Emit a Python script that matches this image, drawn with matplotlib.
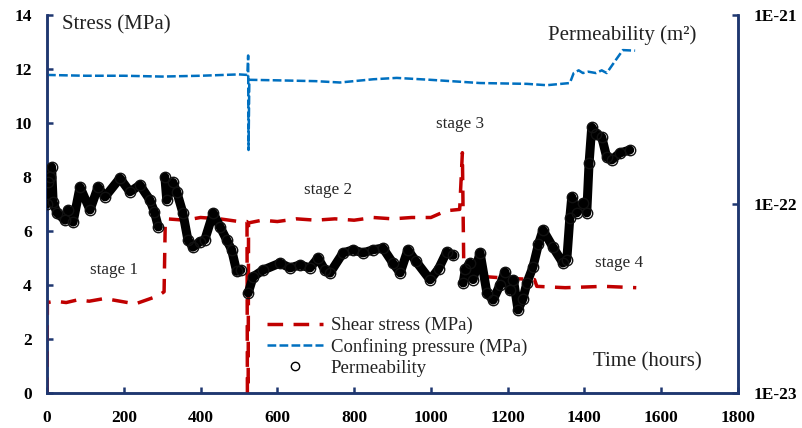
import numpy as np
import matplotlib
matplotlib.use("Agg")
import matplotlib.pyplot as plt
from matplotlib.lines import Line2D
from matplotlib.ticker import FixedLocator, FixedFormatter, NullLocator

# ---------------- data ----------------
shear_t = [0, 1, 20, 50, 80, 110, 150, 190, 230, 260, 290, 305, 308, 312, 360, 400, 450, 500, 521,
           522, 524, 525, 560, 600, 650, 700, 750, 800, 850, 900, 950, 1000, 1040, 1075, 1082,
           1086, 1150, 1200, 1270, 1276, 1350, 1450, 1535]
shear_v = [0, 3.35, 3.4, 3.35, 3.45, 3.4, 3.5, 3.4, 3.3, 3.45, 3.6, 3.75, 6.3, 6.45, 6.4, 6.5, 6.45, 6.35, 6.35,
           0, 0, 6.3, 6.4, 6.35, 6.45, 6.4, 6.45, 6.4, 6.5, 6.45, 6.5, 6.5, 6.75, 6.8, 8.9,
           4.3, 4.3, 4.25, 4.2, 3.95, 3.9, 3.95, 3.9]

conf_t = [0, 100, 200, 300, 400, 500, 522, 524, 525, 527, 600, 700, 763, 850, 911, 998, 1128, 1250,
          1302, 1362, 1372, 1385, 1396, 1410, 1430, 1445, 1458, 1480, 1500, 1532]
conf_v = [11.78, 11.75, 11.75, 11.72, 11.75, 11.8, 11.78, 12.5, 9.0, 11.6, 11.58, 11.55, 11.5, 11.62, 11.67,
          11.6, 11.48, 11.45, 11.4, 11.48, 11.85, 11.95, 11.85, 11.9, 11.85, 11.95, 11.85, 12.3, 12.7, 12.68]

perm_t = [0, 3, 8, 12, 16, 26, 47, 55, 68, 86, 112, 133, 151, 190, 216, 242, 268, 280, 290,
          np.nan,
          307, 312, 328, 338, 354, 367, 380, 398, 411, 433, 451, 468, 481, 494, 505,
          np.nan,
          524, 537, 563, 607, 633, 659, 685, 706, 724, 737, 771, 797, 823, 849, 875, 901, 920,
          940, 960, 998, 1020, 1041, 1058,
          np.nan,
          1084, 1090, 1102, 1110, 1128, 1146, 1162, 1180, 1193, 1206, 1215, 1227, 1240, 1250,
          1266, 1280, 1292, 1318, 1344, 1354, 1362, 1367, 1380, 1396, 1406, 1412, 1419, 1430,
          1445, 1458, 1471, 1492, 1518]
perm_k = [1.00e-22, 1.30e-22, 1.39e-22, 1.57e-22, 1.02e-22, 8.97e-23, 8.21e-23, 9.30e-23, 8.02e-23,
          1.23e-22, 9.30e-23, 1.23e-22, 1.09e-22, 1.37e-22, 1.16e-22, 1.26e-22, 1.05e-22, 9.06e-23, 7.56e-23,
          np.nan,
          1.39e-22, 1.05e-22, 1.30e-22, 1.16e-22, 8.97e-23, 6.46e-23, 5.91e-23, 6.31e-23, 6.46e-23,
          8.97e-23, 7.56e-23, 6.46e-23, 5.72e-23, 4.40e-23, 4.47e-23,
          np.nan,
          3.38e-23, 4.12e-23, 4.47e-23, 4.87e-23, 4.59e-23, 4.76e-23, 4.59e-23, 5.18e-23, 4.47e-23,
          4.31e-23, 5.51e-23, 5.72e-23, 5.51e-23, 5.72e-23, 5.85e-23, 4.87e-23, 4.32e-23,
          5.72e-23, 5.01e-23, 3.97e-23, 4.54e-23, 5.57e-23, 5.35e-23,
          np.nan,
          3.82e-23, 4.54e-23, 4.87e-23, 3.98e-23, 5.53e-23, 3.38e-23, 3.10e-23, 3.73e-23, 4.37e-23,
          3.49e-23, 3.98e-23, 2.75e-23, 3.16e-23, 3.82e-23,
          4.65e-23, 6.11e-23, 7.29e-23, 5.91e-23, 4.87e-23, 5.06e-23, 8.48e-23, 1.09e-22, 8.97e-23,
          1.01e-22, 8.97e-23, 1.64e-22, 2.55e-22, 2.35e-22,
          2.26e-22, 1.77e-22, 1.71e-22, 1.86e-22, 1.93e-22]

x_ticks = [0, 200, 400, 600, 800, 1000, 1200, 1400, 1600, 1800]
y_ticks = [0, 2, 4, 6, 8, 10, 12, 14]
k_ticks = [1e-23, 1e-22, 1e-21]
k_labels = ["1E-23", "1E-22", "1E-21"]

# ---------------- style ----------------
NAVY = "#1F3770"
RED = "#C00000"
BLUE = "#0070C0"
SERIF = "Liberation Serif"

W, H = 803, 428
fig = plt.figure(figsize=(W / 100, H / 100), dpi=100)
L, R, B, T = 47, 738, 393, 15
ax = fig.add_axes([L / W, 1 - B / H, (R - L) / W, (B - T) / H])
ax.set_xlim(0, 1800)
ax.set_ylim(0, 14)

ax.plot(shear_t, shear_v, color=RED, lw=2.5, dashes=(4.5, 3.0), label="Shear stress (MPa)", zorder=3)
ax.plot(conf_t, conf_v, color=BLUE, lw=1.8, dashes=(3.5, 1.3), label="Confining pressure (MPa)", zorder=3)

ax2 = ax.twinx()
ax2.set_yscale("log")
ax2.set_ylim(1e-23, 1e-21)
ax2.plot(perm_t, perm_k, color="black", lw=6.5, solid_capstyle="round", solid_joinstyle="round", zorder=4)
ax2.plot(perm_t, perm_k, ls="none", marker="o", ms=7.5, mfc="none", mec="#111111", mew=1.0, zorder=5)

for a in (ax, ax2):
    a.spines["top"].set_visible(False)
    for s in ("left", "right", "bottom"):
        a.spines[s].set_color(NAVY)
        a.spines[s].set_linewidth(1.8)

ax.xaxis.set_major_locator(FixedLocator(x_ticks))
ax.yaxis.set_major_locator(FixedLocator(y_ticks))
ax.tick_params(axis="both", direction="in", length=4, width=1.8, color=NAVY,
               labelsize=12.5, pad=11)
ax.tick_params(axis="x", pad=12)
ax2.yaxis.set_major_locator(FixedLocator(k_ticks))
ax2.yaxis.set_major_formatter(FixedFormatter(k_labels))
ax2.yaxis.set_minor_locator(NullLocator())
ax2.tick_params(axis="y", direction="in", length=4, width=1.8, color=NAVY, labelsize=12.5, pad=11)
for lab in ax.get_xticklabels() + ax.get_yticklabels() + ax2.get_yticklabels():
    lab.set_fontfamily(SERIF)
    lab.set_fontweight("bold")

ax.text(39, 13.63, "Stress (MPa)", family=SERIF, fontsize=15, ha="left", va="center", color="#222222")
ax.text(1305, 13.26, "Permeability (m²)", family=SERIF, fontsize=15, ha="left", va="center", color="#222222")
ax.text(1422, 1.15, "Time (hours)", family=SERIF, fontsize=15, ha="left", va="center", color="#222222")
for txt, tx, ty in [("stage 1", 174, 4.56), ("stage 2", 732, 7.52), ("stage 3", 1076, 9.96), ("stage 4", 1490, 4.81)]:
    ax.text(tx, ty, txt, family=SERIF, fontsize=12.3, ha="center", va="center", color="#262626")

handles = [Line2D([], [], color=RED, lw=2.5, dashes=(4.5, 3.0)),
           Line2D([], [], color=BLUE, lw=1.8, dashes=(3.5, 1.3)),
           Line2D([], [], ls="none", marker="o", ms=6, mfc="white", mec="black", mew=1.0)]
labels = ["Shear stress (MPa)", "Confining pressure (MPa)", "Permeability"]
leg = ax2.legend(handles, labels, loc="upper left", bbox_to_anchor=(267 / W, 1 - 317 / H),
                 bbox_transform=fig.transFigure, frameon=False, borderpad=0, borderaxespad=0,
                 handlelength=3.0, handletextpad=0.4, labelspacing=0.2,
                 prop={"family": SERIF, "size": 13.5})
for t in leg.get_texts():
    t.set_color("#222222")

fig.savefig("out.png", dpi=100)
